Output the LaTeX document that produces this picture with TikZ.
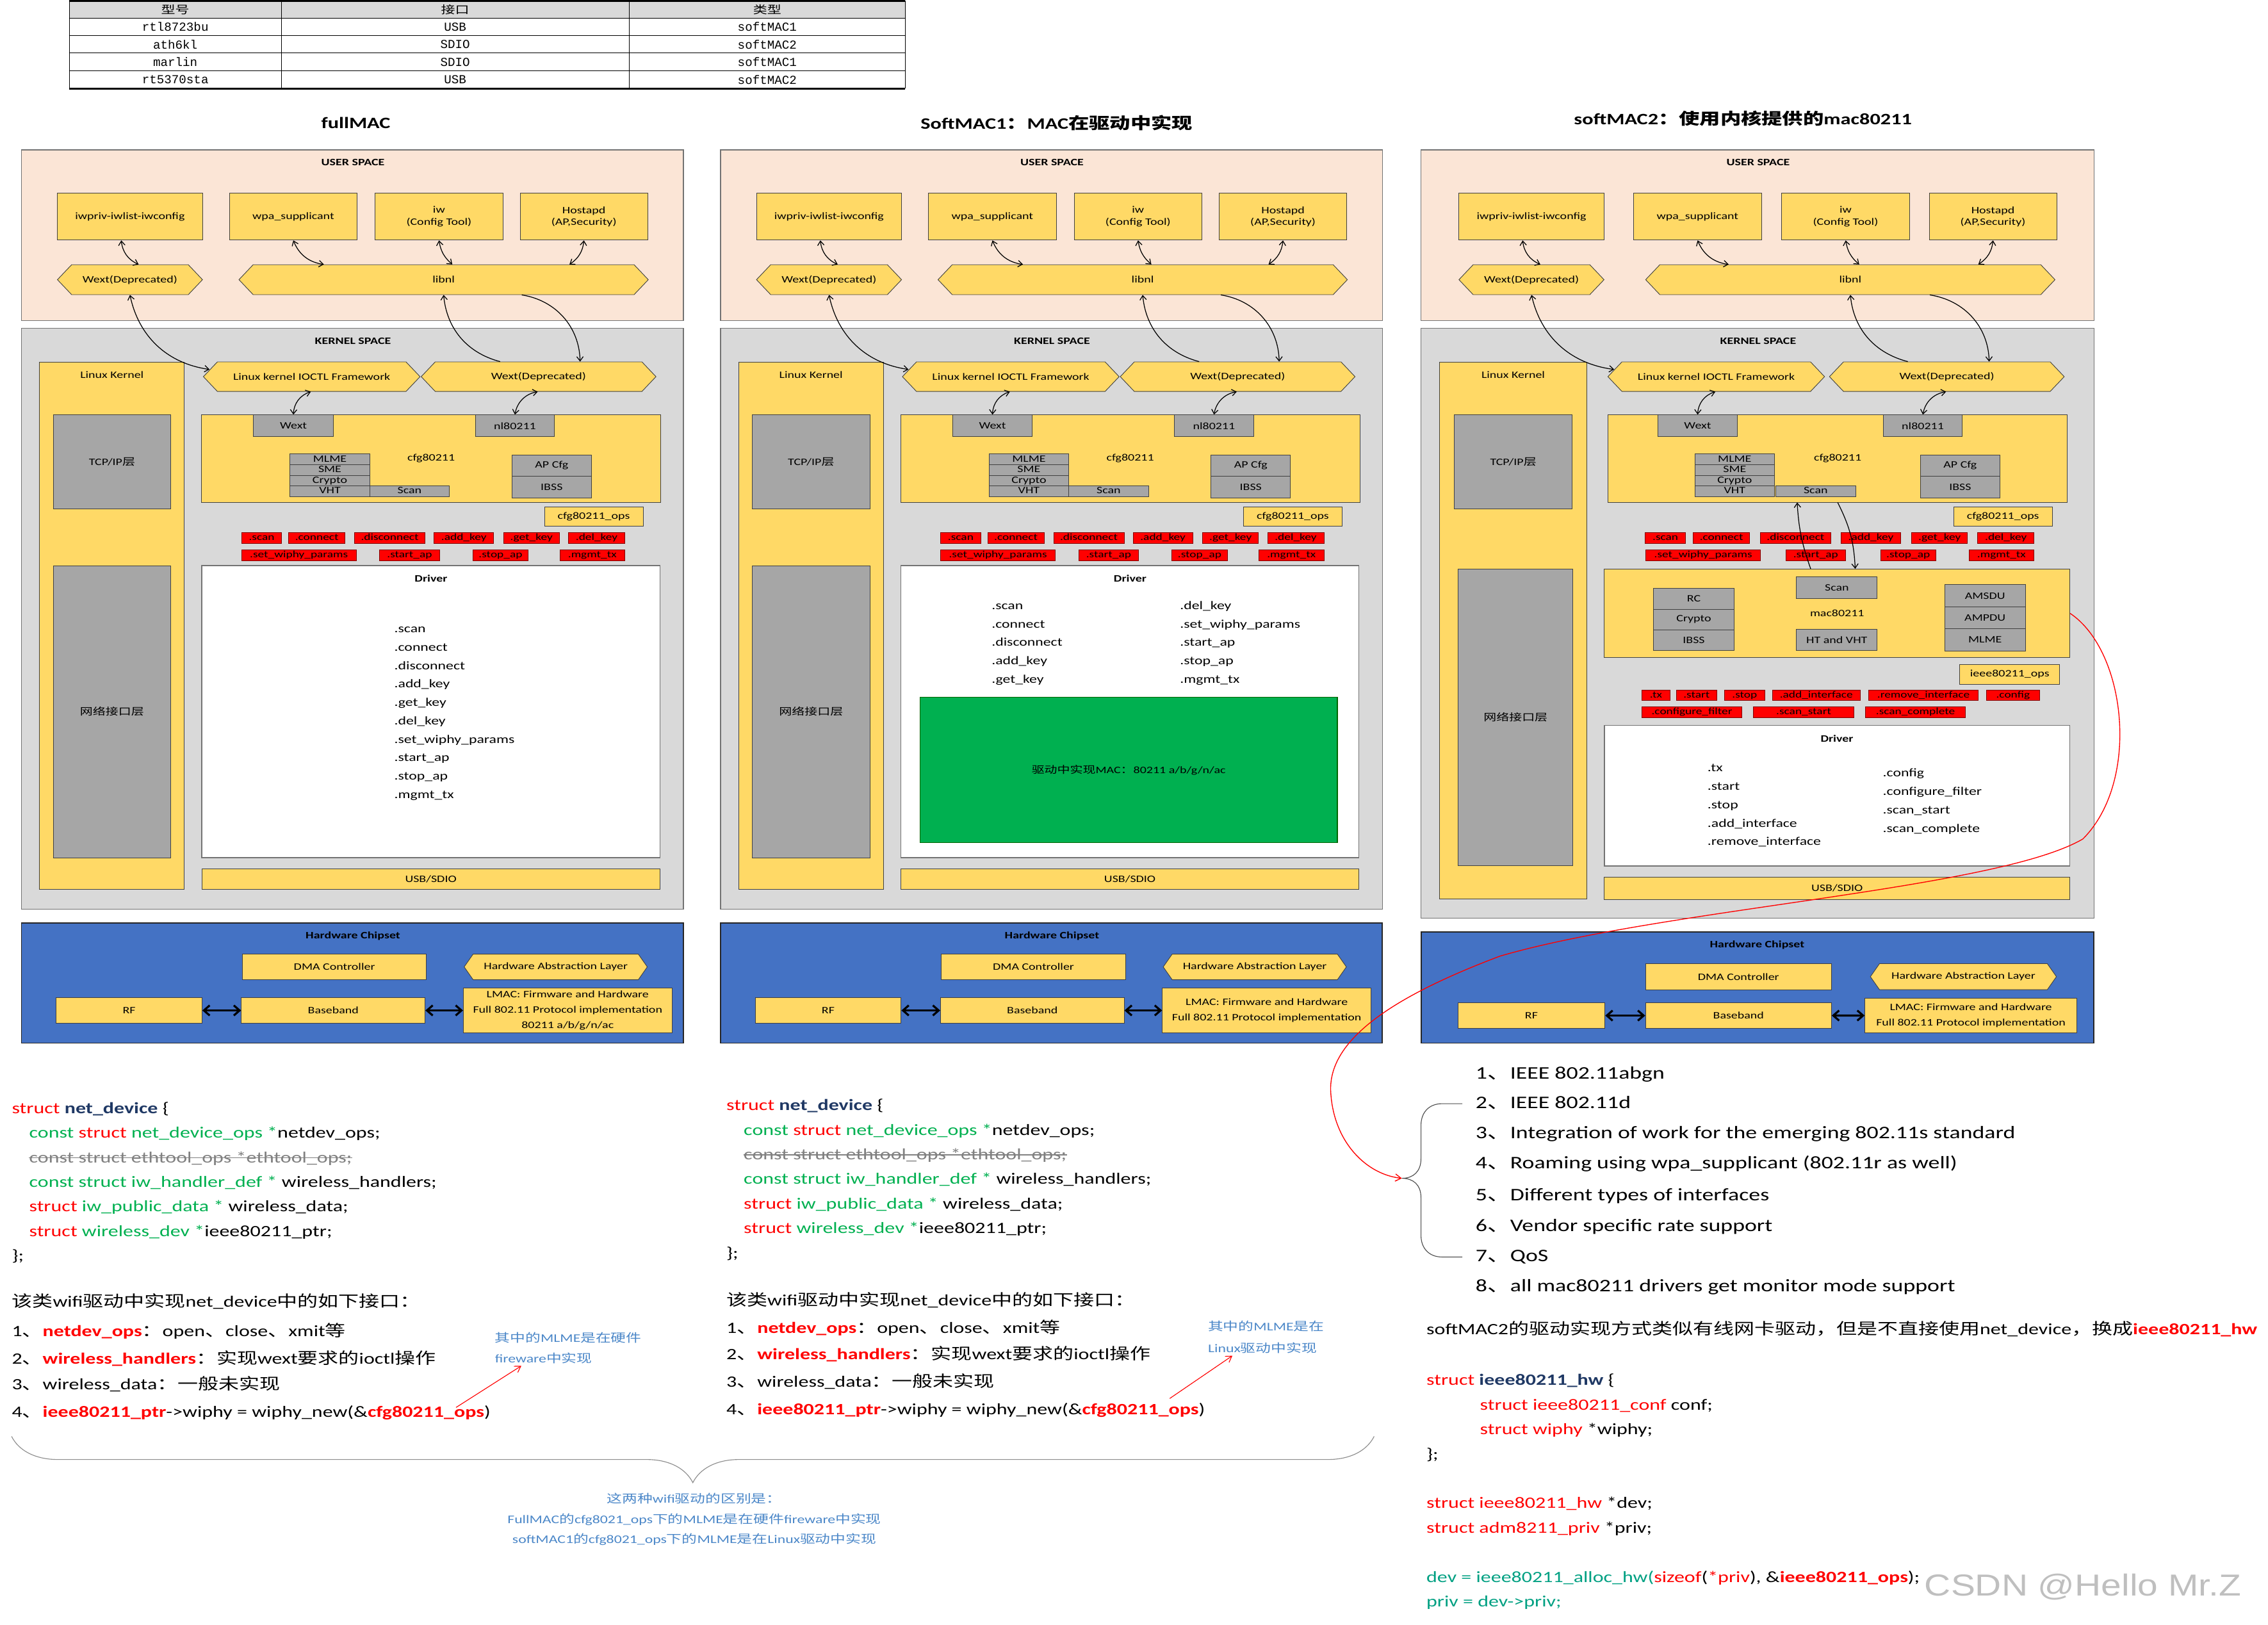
\documentclass[tikz,border=0pt]{standalone}
\usepackage{fontspec}
\setmainfont{Carlito}[FakeStretch=1.3]
\newfontfamily\cjk{Noto Sans CJK SC}[FakeStretch=1.3]
\newfontfamily\tblfont{Liberation Mono}
\newfontfamily\wmfont{Liberation Sans}[FakeStretch=1.2]
\usepackage{xcolor}
\usepackage{tikz}
\usetikzlibrary{arrows.meta,positioning,calc,shapes.symbols,decorations.pathreplacing}
\definecolor{peach}{RGB}{251,229,214}
\definecolor{kgray}{RGB}{217,217,217}
\definecolor{cyel}{RGB}{255,217,102}
\definecolor{cgrey}{RGB}{166,166,166}
\definecolor{opsred}{RGB}{255,0,0}
\definecolor{hwblue}{RGB}{68,114,196}
\definecolor{macgreen}{RGB}{0,176,80}
\definecolor{codered}{RGB}{255,0,0}
\definecolor{codegreen}{RGB}{0,176,80}
\definecolor{codeteal}{RGB}{0,160,130}
\definecolor{codenavy}{RGB}{31,56,100}
\definecolor{notblue}{RGB}{75,135,200}
\definecolor{edge}{RGB}{64,64,64}
\definecolor{tblhead}{RGB}{217,217,217}
\newcommand\redtxt[1]{\textcolor{codered}{#1}}
\newcommand\grntxt[1]{\textcolor{codegreen}{#1}}
\newcommand\navybf[1]{\textcolor{codenavy}{\textbf{#1}}}
\newcommand\redbf[1]{\textcolor{codered}{\textbf{#1}}}
\tikzset{
  spacebox/.style={draw=black!55, line width=0.6pt},
  hwbox/.style={draw=black!85, fill=hwblue, line width=0.8pt},
  ybox/.style={draw=edge, fill=cyel, line width=0.4pt, inner sep=0pt, align=center, font=\fontsize{6.8}{8.2}\selectfont},
  gbox/.style={ybox, fill=cgrey},
  sbox/.style={gbox, text height=4.8pt, text depth=1.4pt},
  wbox/.style={draw=black!55, fill=white, line width=0.6pt, inner sep=0pt},
  rbox/.style={draw=red!50!black, fill=opsred, line width=0.4pt, inner sep=0pt, font=\fontsize{6.6}{7}\selectfont, text height=4.6pt, text depth=1.3pt},
  hexa/.style={shape=signal, signal to=east and west, signal pointer angle=93, draw=edge, fill=cyel, line width=0.4pt, inner sep=0pt, font=\fontsize{6.8}{8}\selectfont},
  plain/.style={inner sep=0pt, font=\fontsize{6.8}{8}\selectfont},
  lblb/.style={inner sep=0pt, font=\bfseries\fontsize{6.8}{8}\selectfont},
  ttl/.style={inner sep=0pt, font=\bfseries\fontsize{11}{13}\selectfont},
  drv/.style={anchor=west, inner sep=0pt, font=\fontsize{8.1}{10}\selectfont, text height=6.1pt, text depth=2pt},
  code/.style={anchor=west, inner sep=0pt, font=\fontsize{10.9}{13}\selectfont, text height=8.2pt, text depth=2.7pt},
  item/.style={anchor=west, inner sep=0pt, font=\fontsize{12.2}{14}\selectfont, text height=9.2pt, text depth=3pt},
  note/.style={anchor=west, inner sep=0pt, text=notblue, font=\fontsize{8.1}{10}\selectfont, text height=6.1pt, text depth=2pt},
  tcell/.style={inner sep=0pt, font=\tblfont\fontsize{8.5}{10}\selectfont},
  arr/.style={{Straight Barb[length=3pt,width=4.5pt]}-{Straight Barb[length=3pt,width=4.5pt]}, line width=0.55pt},
  oarr/.style={-{Straight Barb[length=3pt,width=4.5pt]}, line width=0.55pt},
  hwarr/.style={{Straight Barb[length=4pt,width=7pt]}-{Straight Barb[length=4pt,width=7pt]}, line width=1.4pt},
  redarr/.style={-{Straight Barb[length=4pt,width=5pt]}, draw=red, line width=0.5pt},
  curly/.style={decorate, decoration={brace, amplitude=#1}, draw=black!45, line width=0.5pt},
  strike/.style={draw=black!50, line width=0.6pt},
}
% user space + kernel top, in the coordinates of the first panel
\newcommand{\wifistack}{%
  \draw[spacebox, fill=peach] (14.8,103.6) rectangle (472.4,221.7);
  \node[lblb] (us) at (244,112.2) {USER SPACE};
  \node[ybox, minimum width=100.3pt, minimum height=32.4pt] (iwpriv) at (89.85,149.8) {iwpriv-iwlist-iwconfig};
  \node[ybox, minimum width=88.4pt, minimum height=32.4pt] (wpa) at (202.8,149.8) {wpa\_supplicant};
  \node[ybox, minimum width=88.4pt, minimum height=32.4pt] (iw) at (303.5,149.8) {iw\\(Config Tool)};
  \node[ybox, minimum width=88.2pt, minimum height=32.4pt] (hostapd) at (403.7,149.8) {Hostapd\\(AP,Security)};
  \node[hexa, minimum width=100.3pt, minimum height=20.7pt] (wextu) at (89.85,193.35) {Wext(Deprecated)};
  \node[hexa, minimum width=283pt, minimum height=20.7pt] (libnl) at (306.7,193.35) {libnl};
  \draw[arr] ([xshift=-6pt]iwpriv.south) to[bend right=30] ([xshift=6pt]wextu.north);
  \draw[arr] (wpa.south) to[bend right=30] ([xshift=-82.8pt]libnl.north);
  \draw[arr] (iw.south) to[bend right=20] ([xshift=6pt]libnl.north);
  \draw[arr] (hostapd.south) to[bend left=25] ([xshift=87pt]libnl.north);
  % kernel space
  \node[lblb] (ks) at (244,235.7) {KERNEL SPACE};
  \node[plain] (lk) at (77.4,259) {Linux Kernel};
  \node[hexa, minimum width=149.8pt, minimum height=20.4pt] (ioctl) at (215.5,260.4) {Linux kernel IOCTL Framework};
  \node[hexa, minimum width=162.3pt, minimum height=20.4pt] (wextk) at (372.35,260.4) {Wext(Deprecated)};
  \draw[arr] (wextu.south) to[bend right=35] ([xshift=4.5pt,yshift=5pt]ioctl.west);
  \draw[oarr] ([xshift=-26.6pt]wextk.north) to[bend left=35] (libnl.south);
  \draw[oarr] ([xshift=54pt]libnl.south) to[bend left=40] ([xshift=28.7pt]wextk.north);
  \node[gbox, minimum width=81.3pt, minimum height=65.2pt] (tcpip) at (77.45,319.4) {TCP/IP{\cjk 层}};
  \node[ybox, minimum width=317.4pt, minimum height=60.4pt] (cfg) at (298.1,317) {cfg80211};
  \node[gbox, minimum width=55.1pt, minimum height=15.1pt] (wextg) at (202.85,294.35) {Wext};
  \node[gbox, minimum width=54.8pt, minimum height=15.1pt] (nl) at (356,294.35) {nl80211};
  \draw[arr] ([xshift=-0.6pt]ioctl.south) to[bend right=35] (wextg.north);
  \draw[arr] ([xshift=-0.6pt]wextk.south) to[bend right=35] (nl.north);
  \node[sbox, minimum width=55.1pt, minimum height=7.4pt] (mlme) at (228.05,317.6) {MLME};
  \node[sbox, minimum width=55.1pt, minimum height=7.4pt] (sme) at (228.05,324.95) {SME};
  \node[sbox, minimum width=55.1pt, minimum height=7.4pt] (crypto) at (228.05,332.3) {Crypto};
  \node[sbox, minimum width=55.1pt, minimum height=7.4pt] (vht) at (228.05,339.7) {VHT};
  \node[sbox, minimum width=55.1pt, minimum height=7.4pt] (scan) at (283.15,339.7) {Scan};
  \node[gbox, minimum width=55pt, minimum height=14.8pt] (apcfg) at (381.4,321.9) {AP Cfg};
  \node[gbox, minimum width=55pt, minimum height=15.1pt] (ibss) at (381.4,336.85) {IBSS};
  \node[ybox, minimum width=68.2pt, minimum height=13pt] (cops) at (410.5,357.1) {cfg80211\_ops};
  \node[rbox, minimum width=27.8pt, minimum height=7.4pt] (o1) at (180.9,372) {.scan};
  \node[rbox, minimum width=38.9pt, minimum height=7.4pt] (o2) at (219.05,372) {.connect};
  \node[rbox, minimum width=48.8pt, minimum height=7.4pt] (o3) at (269.5,372) {.disconnect};
  \node[rbox, minimum width=41pt, minimum height=7.4pt] (o4) at (320.7,372) {.add\_key};
  \node[rbox, minimum width=38.6pt, minimum height=7.4pt] (o5) at (367.4,372) {.get\_key};
  \node[rbox, minimum width=39pt, minimum height=7.4pt] (o6) at (412.5,372) {.del\_key};
  \node[rbox, minimum width=79.3pt, minimum height=7.6pt] (o7) at (206.65,383.8) {.set\_wiphy\_params};
  \node[rbox, minimum width=41.3pt, minimum height=7.6pt] (o8) at (283.15,383.8) {.start\_ap};
  \node[rbox, minimum width=38.3pt, minimum height=7.6pt] (o9) at (346.05,383.8) {.stop\_ap};
  \node[rbox, minimum width=45pt, minimum height=7.6pt] (o10) at (409.5,383.8) {.mgmt\_tx};
}
\newcommand{\chipset}[1]{%
  \draw[hwbox] (14.8,638) rectangle (472.4,721.1);
  \node[lblb] (hw) at (244,647.3) {Hardware Chipset};
  \node[ybox, minimum width=127.2pt, minimum height=17.7pt] (dma) at (231.2,668.45) {DMA Controller};
  \node[hexa, signal pointer angle=110, minimum width=126.6pt, minimum height=17.7pt] (hal) at (384.2,668.45) {Hardware Abstraction Layer};
  \node[ybox, minimum width=100.9pt, minimum height=17.7pt] (rf) at (89.25,698.55) {RF};
  \node[ybox, minimum width=127pt, minimum height=17.7pt] (bb) at (230.4,698.55) {Baseband};
  \node[ybox, minimum width=144.3pt, minimum height=30.7pt, font=\fontsize{6.8}{10.7}\selectfont] (lmac) at (392.45,698.55) {#1};
  \draw[hwarr] (rf) -- (bb);
  \draw[hwarr] (bb) -- (lmac);
}
\begin{document}
\begin{tikzpicture}[x=1pt, y=-1pt]
  \useasboundingbox (0,0) rectangle (1568,1123);

  % chip table
  \fill[tblhead] (48,0.6) rectangle (625.8,12.5);
  \draw[line width=1.1pt] (48,0.6) -- (625.8,0.6);
  \draw[line width=0.5pt] (48,12.5) -- (625.8,12.5);
  \draw[line width=0.4pt] (48,24.4) -- (625.8,24.4) (48,36.4) -- (625.8,36.4) (48,48.7) -- (625.8,48.7);
  \draw[line width=1.1pt] (48,61.3) -- (625.8,61.3);
  \draw[line width=0.4pt] (48,0.6) -- (48,61.3) (194.4,0.6) -- (194.4,61.3) (435,0.6) -- (435,61.3) (625.8,0.6) -- (625.8,61.3);
  \node[tcell, font=\cjk\fontsize{7.5}{9}\selectfont] (h1) at (121.2,6.6) {型号};
  \node[tcell, font=\cjk\fontsize{7.5}{9}\selectfont] (h2) at (314.7,6.6) {接口};
  \node[tcell, font=\cjk\fontsize{7.5}{9}\selectfont] (h3) at (530.4,6.6) {类型};
  \foreach \m/\p/\t [count=\i] in {rtl8723bu/USB/softMAC1, ath6kl/SDIO/softMAC2, marlin/SDIO/softMAC1, rt5370sta/USB/softMAC2} {
    \node[tcell] (m\i) at (121.2,{12.5+12.2*(\i-0.5)}) {\m};
    \node[tcell] (p\i) at (314.7,{12.5+12.2*(\i-0.5)}) {\p};
    \node[tcell] (t\i) at (530.4,{12.5+12.2*(\i-0.5)}) {\t};
  }

  % titles
  \node[ttl] (t-full) at (246,85) {fullMAC};
  \node[ttl] (t-soft1) at (730.5,85) {SoftMAC1{\cjk ：}MAC{\cjk 在驱动中实现}};
  \node[ttl] (t-soft2) at (1205,82) {softMAC2{\cjk ：使用内核提供的}mac80211};

  % fullMAC
  \begin{scope}[name prefix=a-]
    \draw[spacebox, fill=kgray] (14.8,227) rectangle (472.4,628.6);
    \draw[draw=edge, fill=cyel, line width=0.4pt] (27.4,250.5) rectangle (127.4,615);
    \wifistack
    \node[gbox, minimum width=81.3pt, minimum height=202pt] (net) at (77.45,492) {\cjk 网络接口层};
    \node[wbox, minimum width=316.7pt, minimum height=202pt] (drv) at (297.85,492) {};
    \node[lblb] (drvl) at (298,399.8) {Driver};
    \foreach \t [count=\i] in {.scan,.connect,.disconnect,.add\_key,.get\_key,.del\_key,.set\_wiphy\_params,.start\_ap,.stop\_ap,.mgmt\_tx}
      \node[drv] (fn\i) at (272.4,{435.2+12.75*(\i-1)}) {\t};
    \node[ybox, minimum width=316.7pt, minimum height=14.2pt] (bus) at (297.85,607.9) {USB/SDIO};
    \chipset{LMAC: Firmware and Hardware\\Full 802.11 Protocol implementation\\80211 a/b/g/n/ac}
  \end{scope}

  % softMAC1
  \begin{scope}[shift={(483.3,0)}, name prefix=b-]
    \draw[spacebox, fill=kgray] (14.8,227) rectangle (472.4,628.6);
    \draw[draw=edge, fill=cyel, line width=0.4pt] (27.4,250.5) rectangle (127.4,615);
    \wifistack
    \node[gbox, minimum width=81.3pt, minimum height=202pt] (net) at (77.45,492) {\cjk 网络接口层};
    \node[wbox, minimum width=316.7pt, minimum height=202pt] (drv) at (297.85,492) {};
    \node[lblb] (drvl) at (298,399.8) {Driver};
    \foreach \t [count=\i] in {.scan,.connect,.disconnect,.add\_key,.get\_key}
      \node[drv] (fl\i) at (202.1,{419.2+12.75*(\i-1)}) {\t};
    \foreach \t [count=\i] in {.del\_key,.set\_wiphy\_params,.start\_ap,.stop\_ap,.mgmt\_tx}
      \node[drv] (fr\i) at (332.3,{419.2+12.75*(\i-1)}) {\t};
    \node[draw=green!40!black, fill=macgreen, line width=0.5pt, minimum width=288.6pt, minimum height=100.7pt, font=\fontsize{6.8}{8}\selectfont] (mac) at (297,532.35) {{\cjk 驱动中实现}MAC{\cjk ：}80211 a/b/g/n/ac};
    \node[ybox, minimum width=316.7pt, minimum height=14.2pt] (bus) at (297.85,607.9) {USB/SDIO};
    \chipset{LMAC: Firmware and Hardware\\Full 802.11 Protocol implementation}
  \end{scope}

  % softMAC2
  \begin{scope}[shift={(967.46,0)}, xscale=1.0165, name prefix=c-]
    \draw[spacebox, fill=kgray] (14.8,227) rectangle (472.4,634.7);
    \draw[draw=edge, fill=cyel, line width=0.4pt] (27.4,250.5) rectangle (127.4,621.5);
    \wifistack
  \end{scope}
  \node[gbox, minimum width=79.2pt, minimum height=205.2pt] (c-net) at (1047.8,496) {\cjk 网络接口层};
  \node[ybox, minimum width=321.8pt, minimum height=61.3pt] (c-mac) at (1270.1,424.05) {mac80211};
  \node[gbox, minimum width=55.8pt, minimum height=15.2pt] (c-mscan) at (1269.9,406.2) {Scan};
  \node[gbox, minimum width=55.8pt, minimum height=14.5pt] (c-ht) at (1269.9,442.45) {HT and VHT};
  \node[gbox, minimum width=56pt, minimum height=14.2pt] (c-rc) at (1171,414) {RC};
  \node[gbox, minimum width=56pt, minimum height=14.2pt] (c-mcrypto) at (1171,428.2) {Crypto};
  \node[gbox, minimum width=56pt, minimum height=14.4pt] (c-mibss) at (1171,442.5) {IBSS};
  \node[gbox, minimum width=55.9pt, minimum height=15.3pt] (c-amsdu) at (1372.35,411.85) {AMSDU};
  \node[gbox, minimum width=55.9pt, minimum height=15.2pt] (c-ampdu) at (1372.35,427.1) {AMPDU};
  \node[gbox, minimum width=55.9pt, minimum height=15.3pt] (c-mmlme) at (1372.35,442.35) {MLME};
  \draw[oarr] ([xshift=-18.3pt]c-mac.north) to[bend left=8] ([xshift=-28pt]c-cfg.south);
  \draw[oarr] (c-cfg.south) to[bend left=12] ([xshift=12.5pt]c-mac.north);
  \node[ybox, minimum width=69pt, minimum height=13.3pt] (c-iops) at (1389.4,466.25) {ieee80211\_ops};
  \node[rbox, minimum width=19.3pt, minimum height=7.1pt] (c-i1) at (1144.85,480.75) {.tx};
  \node[rbox, minimum width=28pt, minimum height=7.1pt] (c-i2) at (1172.9,480.75) {.start};
  \node[rbox, minimum width=27.9pt, minimum height=7.1pt] (c-i3) at (1206.15,480.75) {.stop};
  \node[rbox, minimum width=60.6pt, minimum height=7.1pt] (c-i4) at (1255.7,480.75) {.add\_interface};
  \node[rbox, minimum width=76.1pt, minimum height=7.1pt] (c-i5) at (1329.75,480.75) {.remove\_interface};
  \node[rbox, minimum width=36.6pt, minimum height=7.1pt] (c-i6) at (1391.7,480.75) {.config};
  \node[rbox, minimum width=69pt, minimum height=7.4pt] (c-i7) at (1169.7,492.5) {.configure\_filter};
  \node[rbox, minimum width=69.6pt, minimum height=7.4pt] (c-i8) at (1247,492.5) {.scan\_start};
  \node[rbox, minimum width=69.3pt, minimum height=7.4pt] (c-i9) at (1324.25,492.5) {.scan\_complete};
  \node[wbox, minimum width=321.8pt, minimum height=97pt] (c-drv) at (1270.1,550.1) {};
  \node[lblb] (c-drvl) at (1270,510.8) {Driver};
  \foreach \t [count=\i] in {.tx,.start,.stop,.add\_interface,.remove\_interface}
    \node[drv] (c-fl\i) at (1180.3,{531.4+12.75*(\i-1)}) {\t};
  \foreach \t [count=\i] in {.config,.configure\_filter,.scan\_start,.scan\_complete}
    \node[drv] (c-fr\i) at (1301.5,{535+12.8*(\i-1)}) {\t};
  \node[ybox, minimum width=321.8pt, minimum height=15.4pt] (c-bus) at (1270.1,614.1) {USB/SDIO};
  \draw[hwbox] (982.5,644.4) rectangle (1447.7,721.1);
  \node[lblb] (c-hw) at (1214.8,653.4) {Hardware Chipset};
  \node[ybox, minimum width=128.6pt, minimum height=18pt] (c-dma) at (1201.9,675.2) {DMA Controller};
  \node[hexa, signal pointer angle=110, minimum width=128.6pt, minimum height=18pt] (c-hal) at (1357.4,675.2) {Hardware Abstraction Layer};
  \node[ybox, minimum width=101.7pt, minimum height=18pt] (c-rf) at (1058.75,702.1) {RF};
  \node[ybox, minimum width=128.6pt, minimum height=18pt] (c-bb) at (1201.9,702.1) {Baseband};
  \node[ybox, minimum width=146.5pt, minimum height=24.3pt, font=\fontsize{6.8}{10.7}\selectfont] (c-lmac) at (1362.55,702.05) {LMAC: Firmware and Hardware\\Full 802.11 Protocol implementation};
  \draw[hwarr] (c-rf) -- (c-bb);
  \draw[hwarr] (c-bb) -- (c-lmac);

  % net_device notes, fullMAC
  \node[code] (a-l1) at (8,767) {\redtxt{struct} \navybf{net\_device} \{};
  \node[code] (a-l2) at (20,784) {\grntxt{const} \redtxt{struct} \grntxt{net\_device\_ops *}netdev\_ops;};
  \node[code, text=black!50] (a-l3) at (20,801) {const struct ethtool\_ops *ethtool\_ops;};
  \draw[strike] ([yshift=0.6pt]a-l3.west) -- ([yshift=0.6pt]a-l3.east);
  \node[code] (a-l4) at (20,818) {\grntxt{const struct iw\_handler\_def *} wireless\_handlers;};
  \node[code] (a-l5) at (20,835) {\redtxt{struct} \grntxt{iw\_public\_data *} wireless\_data;};
  \node[code] (a-l6) at (20,852) {\redtxt{struct} \grntxt{wireless\_dev *}ieee80211\_ptr;};
  \node[code] (a-l7) at (8,869) {\};};
  \node[code] (a-k0) at (8,901) {{\cjk 该类}wifi{\cjk 驱动中实现}net\_device{\cjk 中的如下接口：}};
  \node[code] (a-k1) at (8,921) {1{\cjk 、}\redbf{netdev\_ops}{\cjk ：}open{\cjk 、}close{\cjk 、}xmit{\cjk 等}};
  \node[code] (a-k2) at (8,940) {2{\cjk 、}\redbf{wireless\_handlers}{\cjk ：实现}wext{\cjk 要求的}ioctl{\cjk 操作}};
  \node[code] (a-k3) at (8,958) {3{\cjk 、}wireless\_data{\cjk ：一般未实现}};
  \node[code] (a-k4) at (8,977) {4{\cjk 、}\redbf{ieee80211\_ptr}->wiphy = wiphy\_new(\&\redbf{cfg80211\_ops})};
  \node[note] (a-n1) at (342,926) {{\cjk 其中的}MLME{\cjk 是在硬件}};
  \node[note] (a-n2) at (342,940) {fireware{\cjk 中实现}};
  \coordinate (a-from) at (315.3,973);
  \draw[redarr] (a-from) -- ([xshift=18.4pt]a-n2.south west);

  % net_device notes, softMAC1
  \node[code] (b-l1) at (502,765) {\redtxt{struct} \navybf{net\_device} \{};
  \node[code] (b-l2) at (514,782) {\grntxt{const} \redtxt{struct} \grntxt{net\_device\_ops *}netdev\_ops;};
  \node[code, text=black!50] (b-l3) at (514,799) {const struct ethtool\_ops *ethtool\_ops;};
  \draw[strike] ([yshift=0.6pt]b-l3.west) -- ([yshift=0.6pt]b-l3.east);
  \node[code] (b-l4) at (514,816) {\grntxt{const struct iw\_handler\_def *} wireless\_handlers;};
  \node[code] (b-l5) at (514,833) {\redtxt{struct} \grntxt{iw\_public\_data *} wireless\_data;};
  \node[code] (b-l6) at (514,850) {\redtxt{struct} \grntxt{wireless\_dev *}ieee80211\_ptr;};
  \node[code] (b-l7) at (502,867) {\};};
  \node[code] (b-k0) at (502,900) {{\cjk 该类}wifi{\cjk 驱动中实现}net\_device{\cjk 中的如下接口：}};
  \node[code] (b-k1) at (502,919) {1{\cjk 、}\redbf{netdev\_ops}{\cjk ：}open{\cjk 、}close{\cjk 、}xmit{\cjk 等}};
  \node[code] (b-k2) at (502,937) {2{\cjk 、}\redbf{wireless\_handlers}{\cjk ：实现}wext{\cjk 要求的}ioctl{\cjk 操作}};
  \node[code] (b-k3) at (502,956) {3{\cjk 、}wireless\_data{\cjk ：一般未实现}};
  \node[code] (b-k4) at (502,975) {4{\cjk 、}\redbf{ieee80211\_ptr}->wiphy = wiphy\_new(\&\redbf{cfg80211\_ops})};
  \node[note] (b-n1) at (835,918) {{\cjk 其中的}MLME{\cjk 是在}};
  \node[note] (b-n2) at (835,933) {Linux{\cjk 驱动中实现}};
  \coordinate (b-from) at (808.7,966.8);
  \draw[redarr] (b-from) -- ([xshift=17pt]b-n2.south west);

  % difference note
  \coordinate (br-r) at (950,993);
  \coordinate (br-l) at (8,993);
  \draw[curly=32pt] (br-r) -- (br-l);
  \node[note, anchor=center] (d1) at (480,1037) {{\cjk 这两种}wifi{\cjk 驱动的区别是：}};
  \node[note, anchor=center] (d2) at (480,1051) {FullMAC{\cjk 的}cfg8021\_ops{\cjk 下的}MLME{\cjk 是在硬件}fireware{\cjk 中实现}};
  \node[note, anchor=center] (d3) at (480,1065) {softMAC1{\cjk 的}cfg8021\_ops{\cjk 下的}MLME{\cjk 是在}Linux{\cjk 驱动中实现}};

  % mac80211 features
  \node[item] (f1) at (1020,743) {1{\cjk 、}IEEE 802.11abgn};
  \node[item] (f2) at (1020,763) {2{\cjk 、}IEEE 802.11d};
  \node[item] (f3) at (1020,784) {3{\cjk 、}Integration of work for the emerging 802.11s standard};
  \node[item] (f4) at (1020,805) {4{\cjk 、}Roaming using wpa\_supplicant (802.11r as well)};
  \node[item] (f5) at (1020,827) {5{\cjk 、}Different types of interfaces};
  \node[item] (f6) at (1020,848) {6{\cjk 、}Vendor specific rate support};
  \node[item] (f7) at (1020,869) {7{\cjk 、}QoS};
  \node[item] (f8) at (1020,890) {8{\cjk 、}all mac80211 drivers get monitor mode support};
  \coordinate (brtip) at (969.2,814.6);
  \draw[draw=black!70, line width=0.5pt] (1011,763) -- (997,763) .. controls (988,763) and (982.4,769) .. (982.4,778)
    -- (982.4,801) .. controls (982.4,810) and (977,814.6) .. (brtip)
    .. controls (977,814.6) and (982.4,819) .. (982.4,828)
    -- (982.4,854) .. controls (982.4,863) and (988,869) .. (997,869) -- (1011,869);
  \draw[redarr, line width=0.6pt] (c-mac.east) .. controls (1470,450) and (1480,540) .. (1440,580)
    .. controls (1380,615) and (1150,628) .. (1037,661)
    .. controls (960,690) and (918,720) .. (920,755)
    .. controls (922,790) and (945,812) .. (brtip);

  % ieee80211_hw notes
  \node[code, font=\fontsize{10.9}{13}\selectfont] (s0) at (986,920) {softMAC2{\cjk 的驱动实现方式类似有线网卡驱动，但是不直接使用}net\_device{\cjk ，换成}\redbf{ieee80211\_hw}};
  \node[code] (s1) at (986,955) {\redtxt{struct} \navybf{ieee80211\_hw} \{};
  \node[code] (s2) at (1023,972) {\redtxt{struct ieee80211\_conf} conf;};
  \node[code] (s3) at (1023,989) {\redtxt{struct wiphy} *wiphy;};
  \node[code] (s4) at (986,1006) {\};};
  \node[code] (s5) at (986,1040) {\redtxt{struct ieee80211\_hw} *dev;};
  \node[code] (s6) at (986,1057) {\redtxt{struct adm8211\_priv} *priv;};
  \node[code] (s7) at (986,1091) {\textcolor{codeteal}{dev = ieee80211\_alloc\_hw(}\redtxt{sizeof}(\redtxt{*priv}), \&\redbf{ieee80211\_ops});};
  \node[code] (s8) at (986,1108) {\textcolor{codeteal}{priv = dev->priv;}};

  \node[inner sep=0pt, text=black!25, font=\wmfont\fontsize{21}{24}\selectfont] (wm) at (1440,1097) {CSDN @Hello Mr.Z};
\end{tikzpicture}
\end{document}
